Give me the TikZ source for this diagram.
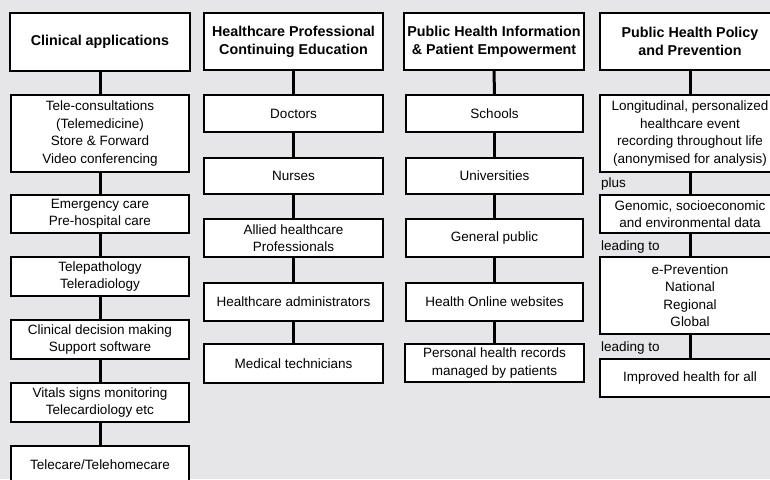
\documentclass[tikz,border=0pt]{standalone}
\usepackage{fontspec}
\setmainfont{Liberation Sans}
\definecolor{bg}{RGB}{230,230,232}
% box from (x1,y1) to (x2,y2) in pixel units
\newcommand\boxnode[7]{\node[#2, minimum width={#5-#3}, minimum height={#6-#4}] (#1) at ({(#3+#5)/2},{(#4+#6)/2}) {#7};}
\begin{document}
\begin{tikzpicture}[x=1pt,y=-1pt,
  head/.style={draw=black, line width=2pt, fill=white, align=center, inner sep=0pt,
    font=\fontsize{14.3}{18}\selectfont\bfseries},
  item/.style={draw=black, line width=1.1pt, fill=white, align=center, inner sep=0pt,
    font=\fontsize{13.5}{17.5}\selectfont},
  link/.style={line width=3pt, draw=black},
  note/.style={anchor=west, inner sep=0pt, font=\fontsize{13.5}{16}\selectfont}]
\clip (0,0) rectangle (770,479);
\fill[bg] (0,0) rectangle (770,479);

% Column 1: clinical applications
\boxnode{h1}{head}{10}{13}{190}{71}{Clinical applications}
\boxnode{a1}{item}{11}{95}{189}{172}{Tele-consultations\\(Telemedicine)\\Store \& Forward\\Video conferencing}
\boxnode{a2}{item}{11}{195}{189}{233}{Emergency care\\Pre-hospital care}
\boxnode{a3}{item}{11}{257}{189}{296}{Telepathology\\Teleradiology}
\boxnode{a4}{item}{11}{320}{189}{359}{Clinical decision making\\Support software}
\boxnode{a5}{item}{11}{383}{189}{422}{Vitals signs monitoring\\Telecardiology etc}
\boxnode{a6}{item}{11}{446}{189}{484}{Telecare/Telehomecare}

% Column 2: continuing education
\boxnode{h2}{head}{204}{13}{383}{70}{Healthcare Professional\\Continuing Education}
\boxnode{b1}{item}{204}{95}{383}{132}{Doctors}
\boxnode{b2}{item}{204}{158}{383}{194}{Nurses}
\boxnode{b3}{item}{204}{219}{383}{257}{Allied healthcare\\Professionals}
\boxnode{b4}{item}{204}{283}{383}{321}{Healthcare administrators}
\boxnode{b5}{item}{204}{344}{383}{383}{Medical technicians}

% Column 3: information and empowerment
\boxnode{h3}{head}{404}{13}{584}{70}{Public Health Information\\\& Patient Empowerment}
\boxnode{c1}{item}{406}{95}{583}{132}{Schools}
\boxnode{c2}{item}{406}{158}{583}{194}{Universities}
\boxnode{c3}{item}{406}{219}{583}{257}{General public}
\boxnode{c4}{item}{406}{283}{583}{321}{Health Online websites}
\boxnode{c5}{item}{405}{344}{584}{382}{Personal health records\\managed by patients}

% Column 4: policy and prevention
\boxnode{h4}{head}{600}{13}{780}{70}{Public Health Policy\\and Prevention}
\boxnode{d1}{item}{600}{95}{780}{172}{Longitudinal, personalized\\healthcare event\\recording throughout life\\(anonymised for analysis)}
\boxnode{d2}{item}{600}{195}{780}{233}{Genomic, socioeconomic\\and environmental data}
\boxnode{d3}{item}{600}{257}{780}{334}{e-Prevention\\National\\Regional\\Global}
\boxnode{d4}{item}{600}{359}{780}{397}{Improved health for all}

\node[note] (p1) at (601,184) {plus};
\node[note] (p2) at (601,247) {leading to};
\node[note] (p3) at (601,348) {leading to};

% vertical links
\foreach \u/\v in {h1/a1,a1/a2,a2/a3,a3/a4,a4/a5,a5/a6,
                   h2/b1,b1/b2,b2/b3,b3/b4,b4/b5,
                   h3/c1,c1/c2,c2/c3,c3/c4,c4/c5,
                   h4/d1,d1/d2,d2/d3,d3/d4}
  \draw[link] (\u.south) -- (\v.north);
\end{tikzpicture}
\end{document}
